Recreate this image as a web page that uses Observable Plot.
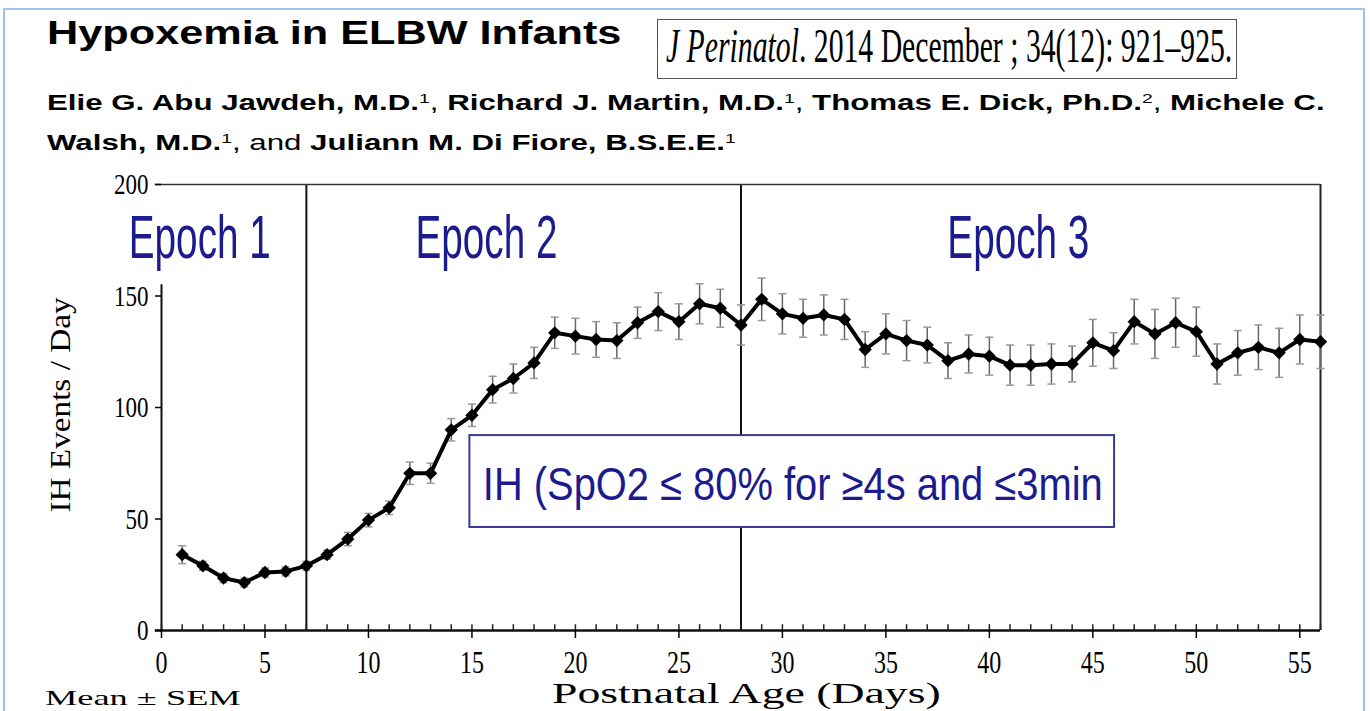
<!DOCTYPE html>
<html><head><meta charset="utf-8">
<script src="https://cdn.jsdelivr.net/npm/d3@7"></script>
<script src="https://cdn.jsdelivr.net/npm/@observablehq/plot@0.6"></script>
<style>
body{margin:0;width:1370px;height:711px;overflow:hidden;background:#fff;position:relative;font-family:"Liberation Sans",Arial,sans-serif;color:#000;}
.frame{position:absolute;left:3px;top:8px;width:1362px;height:740px;border:2px solid #9cc3ea;box-sizing:border-box;}
.t{position:absolute;white-space:nowrap;transform-origin:0 0;line-height:1;}
sup{font-size:0.62em;font-weight:normal;vertical-align:0.55em;line-height:0;}
#chart{position:absolute;left:0;top:166px;}
</style></head><body>
<div class="frame"></div>
<div id="title" class="t" style="left:47px;top:15px;font-weight:bold;font-size:34px;">Hypoxemia in ELBW Infants</div>
<div style="position:absolute;left:657px;top:19px;width:580px;height:60px;border:1.5px solid #555;box-sizing:border-box;background:#fff"></div>
<div id="cite" class="t" style="left:666px;top:22px;font-family:'Liberation Serif',serif;font-size:48px;"><i>J Perinatol</i>. 2014 December ; 34(12): 921–925.</div>
<div id="auth1" class="t" style="left:47px;top:92px;font-size:22px;"><b>Elie G. Abu Jawdeh, M.D.</b><sup>1</sup>, <b>Richard J. Martin, M.D.</b><sup>1</sup>, <b>Thomas E. Dick, Ph.D.</b><sup>2</sup>, <b>Michele C.</b></div>
<div id="auth2" class="t" style="left:47px;top:132px;font-size:22px;"><b>Walsh, M.D.</b><sup>1</sup>, and <b>Juliann M. Di Fiore, B.S.E.E.</b><sup>1</sup></div>
<div id="chart"></div>
<div id="ylab" class="t" style="font-family:'Liberation Serif',serif;font-size:30px;transform-origin:50% 50%;">IH Events / Day</div>
<div id="xlab" class="t" style="top:679px;font-family:'Liberation Serif',serif;font-size:29px;">Postnatal Age (Days)</div>
<div id="mean" class="t" style="left:45px;top:687px;font-family:'Liberation Serif',serif;font-size:22px;">Mean ± SEM</div>
<script>
// ---- data ----
const days = [1,2,3,4,5,6,7,8,9,10,11,12,13,14,15,16,17,18,19,20,21,22,23,24,25,26,27,28,29,30,31,32,33,34,35,36,37,38,39,40,41,42,43,44,45,46,47,48,49,50,51,52,53,54,55,56];
const meanIH = [34,29,23.5,21.5,26,26.5,29,34,41,49.5,55,70.5,70.5,90,96.5,108,113,120,133.5,132,130.5,130,138,143,138.5,146.5,144.5,137,148.5,142,140,141.5,139.5,126,133,130,128,121,124,123,119,119,119.5,119.5,129,125.5,138.5,133,138,134,119.5,124.5,127,124.5,130.5,129.5];
const semIH = [4,2,2,2,2,2,2,2,3,3,3,5,4.5,5,5,6,6.5,7,7,8,8,8,7,8.5,8,9,8.5,9,9.5,9,8.5,9,9,8,9,9,8,8,8.5,8.5,9,9,9,8,10.5,8,10,11,11,11,9,10,10,11,11,12];
const epochNames = ["Epoch 1","Epoch 2","Epoch 3"];
const epochLabelX = [1.85,15.7,41.4];
const epochLabelY = [175.5,175.5,175.5];
const epochBounds = [7,28];
const xTicks = [0,5,10,15,20,25,30,35,40,45,50,55];
const minorTicks = [0].concat(days);
const yTicks = [0,50,100,150,200];
const boxText = ["IH (SpO2 ≤ 80% for ≥4s and ≤3min"];
const boxX = [14.9,46.05], boxY = [46.2,87.4], boxTextPos = [30.5,65.3];

const rows = days.map((d,i)=>({day:d, mean:meanIH[i], lo:meanIH[i]-semIH[i], hi:meanIH[i]+semIH[i]}));
const navy = "#1b1b8f";
const sans = "'Liberation Sans',Arial,sans-serif";
const serif = "'Liberation Serif','Times New Roman',serif";
const cap = {draw(ctx, size){ const w = Math.sqrt(size/Math.PI); ctx.moveTo(-w,0); ctx.lineTo(w,0); }};

const chart = Plot.plot({
  width:1370, height:545,
  marginLeft:161, marginRight:50, marginTop:18, marginBottom:81,
  style:{background:"transparent", overflow:"visible"},
  x:{domain:[0,56]},
  y:{domain:[0,200]},
  marks:[
    Plot.ruleX(epochBounds,{y1:0,y2:200,stroke:"#111",strokeWidth:2}),
    Plot.ruleY([200],{x1:-0.3,x2:56,stroke:"#333",strokeWidth:1.5}),
    Plot.ruleX([56],{y1:0,y2:200,stroke:"#222",strokeWidth:2}),
    Plot.ruleX([0],{y1:0,y2:155,stroke:"#111",strokeWidth:2}),
    Plot.rect(boxText,{x1:boxX[0],x2:boxX[1],y1:boxY[0],y2:boxY[1],fill:"white",stroke:"#3a3a96",strokeWidth:2}),
    Plot.text(boxText,{x:boxTextPos[0],y:boxTextPos[1],text:d=>d,fill:navy,fontSize:46,fontFamily:sans}),
    Plot.text(epochNames,{x:(d,i)=>epochLabelX[i],y:(d,i)=>epochLabelY[i],text:d=>d,fill:navy,fontSize:47,fontFamily:sans}),
    Plot.ruleX(minorTicks,{y1:0,y2:2.6,stroke:"#222",strokeWidth:1.5}),
    Plot.ruleX(rows,{x:"day",y1:"lo",y2:"hi",stroke:"#666",strokeWidth:1.5}),
    Plot.dot(rows,{x:"day",y:"hi",symbol:cap,r:4,stroke:"#999",strokeWidth:1.5}),
    Plot.dot(rows,{x:"day",y:"lo",symbol:cap,r:4,stroke:"#999",strokeWidth:1.5}),
    Plot.line(rows,{x:"day",y:"mean",stroke:"#000",strokeWidth:4,strokeLinejoin:"round"}),
    Plot.dot(rows,{x:"day",y:"mean",symbol:"diamond2",r:6,fill:"#000"}),
    Plot.ruleY([0],{x1:-0.3,x2:56,stroke:"#111",strokeWidth:2.5}),
    Plot.axisX({ticks:xTicks,tickSize:8,tickPadding:12,label:null,fontSize:24,fontFamily:serif,strokeWidth:1.5,tickFormat:d=>String(d)}),
    Plot.axisY({ticks:yTicks,tickSize:6,tickPadding:7,label:null,fontSize:23,fontFamily:serif,strokeWidth:1.5,tickFormat:d=>String(d)})
  ]
});
document.getElementById("chart").appendChild(chart);

// scale chart texts (the source picture is stretched)
function scaleText(el,kx,ky){
  const t = el.getAttribute("transform");
  if (t) el.setAttribute("transform", t + ` scale(${kx},${ky})`);
  else { const x=+el.getAttribute("x")||0, y=+el.getAttribute("y")||0; el.setAttribute("transform",`translate(${x},${y}) scale(${kx},${ky}) translate(${-x},${-y})`); }
}
chart.querySelectorAll("text").forEach(el=>{
  const s = el.textContent;
  if (s.startsWith("Epoch")) scaleText(el, 142/el.getComputedTextLength(), 1.28);
  else if (s.startsWith("IH (")) scaleText(el, 620/el.getComputedTextLength(), 1.0);
});
chart.querySelectorAll('g[aria-label="x-axis tick label"] text, g[aria-label="y-axis tick label"] text').forEach(el=>scaleText(el,1,1.3));

// header text fitting
function fitX(id,w){ const el=document.getElementById(id); const k=w/el.offsetWidth; el.style.transform=`scaleX(${k})`; return k; }
fitX("title",575);
fitX("cite",566);
const ka = fitX("auth1",1278);
document.getElementById("auth2").style.transform=`scaleX(${ka})`;
const xl = document.getElementById("xlab"); const kx = 388/xl.offsetWidth; xl.style.left=(746-194)+"px"; xl.style.transform=`scaleX(${kx})`;
fitX("mean",195);
const yl = document.getElementById("ylab"); const ky = 215/yl.offsetWidth;
yl.style.left=(60-yl.offsetWidth/2)+"px"; yl.style.top=(405-yl.offsetHeight/2)+"px";
yl.style.transform=`rotate(-90deg) scaleX(${ky})`;
</script>
</body></html>
